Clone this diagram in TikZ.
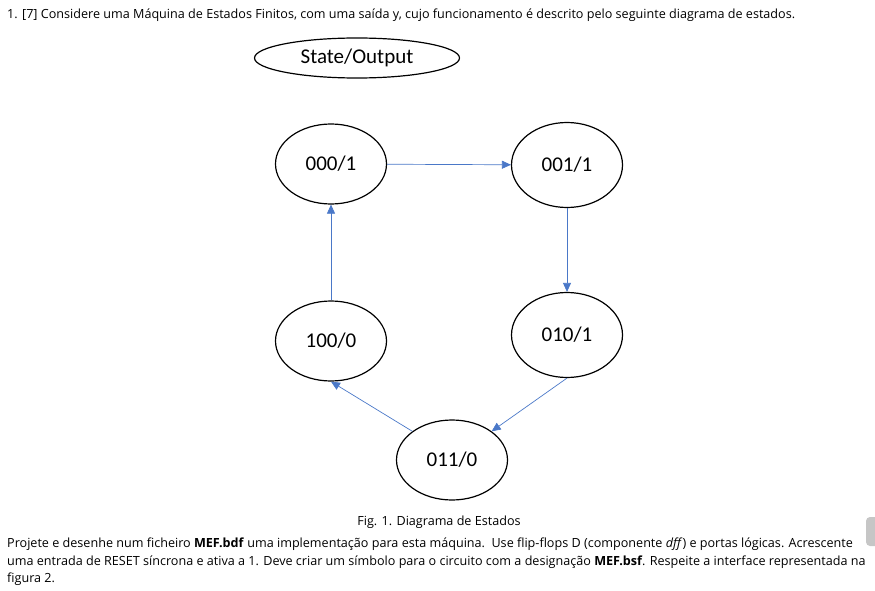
\documentclass[tikz,border=0pt]{standalone}
\usepackage{fontspec}
\setmainfont{Open Sans}
\newfontfamily\statefont{Carlito}
\usetikzlibrary{shapes.geometric,arrows.meta}
\definecolor{edgeblue}{HTML}{4A78C8}
\definecolor{bargray}{HTML}{C6C6C6}

\begin{document}
\begin{tikzpicture}[x=1pt,y=-1pt,
    state/.style={draw,ellipse,line width=1.2pt,minimum width=111pt,minimum height=80pt,inner sep=0pt,font=\statefont\fontsize{21}{24}\selectfont},
    trans/.style={draw=edgeblue,line width=0.7pt,-{Triangle[length=9pt,width=8pt]}},
    body/.style={font=\fontsize{12.6}{17.5}\selectfont,inner sep=0pt}]

    \useasboundingbox (0,0) rectangle (875,591);

    % question text
    \node[body,anchor=base west] (title) at (7,19) {1. [7] Considere uma Máquina de Estados Finitos, com uma saída y, cujo funcionamento é descrito pelo seguinte diagrama de estados.};

    % legend
    \node[state,minimum width=205pt,minimum height=40pt] (legend) at (357,58) {State/Output};

    % states
    \node[state] (s000) at (331,164) {000/1};
    \node[state,minimum height=85pt] (s001) at (567,165) {001/1};
    \node[state,minimum height=85pt] (s010) at (567,335) {010/1};
    \node[state] (s011) at (452,460) {011/0};
    \node[state] (s100) at (331,341) {100/0};

    % transitions
    \draw[trans] (s000) -- (s001);
    \draw[trans] (s001) -- (s010);
    \draw[trans] (s010.south) -- (s011.north east);
    \draw[trans] (s011.north west) -- (s100.south);
    \draw[trans] (s100) -- (s000);

    \node[body,anchor=base] (caption) at (439,525) {Fig. 1. Diagrama de Estados};
    \node[body,anchor=north west,align=left] (task) at (7,538) {Projete e desenhe num ficheiro \textbf{MEF.bdf} uma implementação para esta máquina.\ \ Use flip-flops D (componente \textit{dff}) e portas lógicas. Acrescente\\
    uma entrada de RESET síncrona e ativa a 1. Deve criar um símbolo para o circuito com a designação \textbf{MEF.bsf}. Respeite a interface representada na\\
    figura 2.};

    % scroll bar
    \fill[bargray,rounded corners=4pt] (866,517) rectangle (882,546);

\end{tikzpicture}
\end{document}
